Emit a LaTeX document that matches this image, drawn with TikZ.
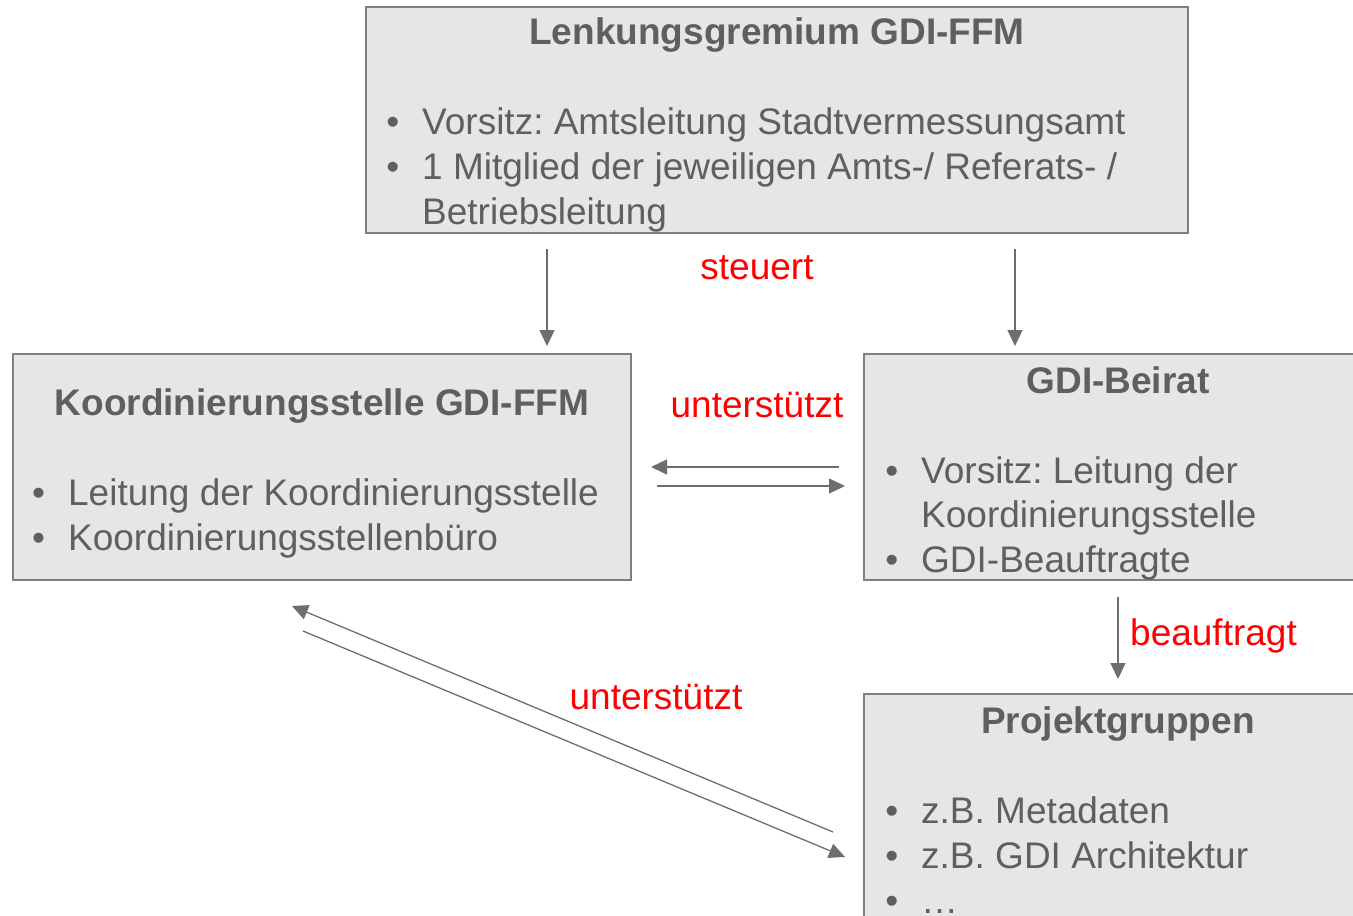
\documentclass[tikz,border=0pt]{standalone}
\usepackage{fontspec}
\setmainfont{Liberation Sans}
\usetikzlibrary{arrows.meta}
\frenchspacing
\definecolor{boxgrau}{RGB}{230,230,230}
\definecolor{randgrau}{RGB}{128,128,128}
\definecolor{textgrau}{RGB}{95,95,95}
\definecolor{pfeilgrau}{RGB}{110,110,110}
\newcommand{\pkt}{\llap{\textbullet\hspace{23pt}}}
\begin{document}
\begin{tikzpicture}[x=1pt, y=-1pt,
  box/.style={draw=randgrau, fill=boxgrau, line width=1.3pt, inner sep=0pt},
  titel/.style={font=\fontsize{37}{45}\selectfont\bfseries, text=textgrau, anchor=base, inner sep=0pt},
  zeile/.style={font=\fontsize{37}{45}\selectfont, text=textgrau, anchor=base west, inner sep=0pt},
  rotlabel/.style={font=\fontsize{37}{45}\selectfont, text=red, anchor=base, inner sep=0pt},
  pfeil/.style={draw=pfeilgrau, line width=1.3pt, -{Triangle[width=15pt,length=16pt]}}]
%
         \useasboundingbox (0,0) rectangle (1353,916);

         % Kaesten
         \node [box, minimum width=822pt, minimum height=226pt] (lenk)  at (777,120)  {};
         \node [box, minimum width=618pt, minimum height=226pt] (koord) at (322,467)  {};
         \node [box, minimum width=506pt, minimum height=226pt] (beirat) at (1117,467) {};
         \node [box, minimum width=506pt, minimum height=260pt] (projekt) at (1117,824) {};

         % Lenkungsgremium
         \node [titel] (lenkT) at (777,44) {Lenkungsgremium GDI-FFM};
         \node [zeile] (lenk1) at (422,134) {\pkt Vorsitz: Amtsleitung Stadtvermessungsamt};
         \node [zeile] (lenk2) at (422,179) {\pkt 1 Mitglied der jeweiligen Amts-/ Referats- /};
         \node [zeile] (lenk3) at (422,224) {Betriebsleitung};

         % Koordinierungsstelle
         \node [titel] (koordT) at (322,415) {Koordinierungsstelle GDI-FFM};
         \node [zeile] (koord1) at (68,505) {\pkt Leitung der Koordinierungsstelle};
         \node [zeile] (koord2) at (68,550) {\pkt Koordinierungsstellenbüro};

         % Beirat
         \node [titel] (beiratT) at (1118,393) {GDI-Beirat};
         \node [zeile] (beirat1) at (921,483) {\pkt Vorsitz: Leitung der};
         \node [zeile] (beirat2) at (921,527) {Koordinierungsstelle};
         \node [zeile] (beirat3) at (921,572) {\pkt GDI-Beauftragte};

         % Projektgruppen
         \node [titel] (projektT) at (1118,733) {Projektgruppen};
         \node [zeile] (projekt1) at (921,823) {\pkt z.B. Metadaten};
         \node [zeile] (projekt2) at (921,868) {\pkt z.B. GDI Architektur};
         \node [zeile] (projekt3) at (921,913) {\pkt …};

         % Pfeilenden
         \coordinate (s1a) at (547,249);  \coordinate (s1b) at (547,346);
         \coordinate (s2a) at (1015,249); \coordinate (s2b) at (1015,346);
         \coordinate (u1a) at (839,467);  \coordinate (u1b) at (651,467);
         \coordinate (u2a) at (657,486);  \coordinate (u2b) at (845,486);
         \coordinate (ba)  at (1118,597); \coordinate (bb)  at (1118,679);
         \coordinate (d1a) at (833,832);  \coordinate (d1b) at (292,606);
         \coordinate (d2a) at (303,631);  \coordinate (d2b) at (845,857);

         \draw [pfeil] (s1a) -- (s1b);
         \draw [pfeil] (s2a) -- (s2b);
         \draw [pfeil] (u1a) -- (u1b);
         \draw [pfeil] (u2a) -- (u2b);
         \draw [pfeil] (ba) -- (bb);
         \draw [pfeil] (d1a) -- (d1b);
         \draw [pfeil] (d2a) -- (d2b);

         % Beschriftungen
         \node [rotlabel] (steuert) at (757,279) {steuert};
         \node [rotlabel] (unter1) at (757,417) {unterstützt};
         \node [rotlabel, anchor=base west] (beauf) at (1130,645) {beauftragt};
         \node [rotlabel] (unter2) at (656,709) {unterstützt};

\end{tikzpicture}
\end{document}
